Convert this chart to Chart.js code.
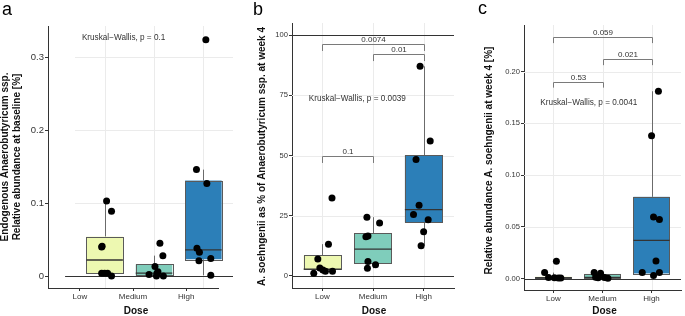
<!DOCTYPE html>
<html><head><meta charset="utf-8">
<script src="https://cdn.jsdelivr.net/npm/chart.js@4"></script>
<style>
html,body{margin:0;padding:0;background:#fff;}
#wrap{position:relative;width:685px;height:316px;overflow:hidden;background:#fff;}
canvas{position:absolute;top:0;}
</style></head><body>
<div id="wrap">
<canvas id="ca" width="236" height="316" style="left:0px"></canvas>
<canvas id="cb" width="222" height="316" style="left:236px"></canvas>
<canvas id="cc" width="227" height="316" style="left:458px"></canvas>
</div>
<script>
// ---------- shared ----------
const doseLevels = ['Low', 'Medium', 'High'];
const boxColors = ['#edf8b1', '#7fcdbb', '#2c7fb8'];

// ---------- panel a ----------
const aLow = [0.103, 0.089, 0.041, 0.040, 0.004, 0.004, 0.004, 0.000];
const aLowJitter = [0.04, 0.14, -0.05, -0.06, -0.06, 0.00, 0.06, 0.14];
const aMed = [0.045, 0.028, 0.013, 0.006, 0.004, 0.002, 0.000, 0.000];
const aMedJitter = [0.12, 0.18, 0.02, 0.08, 0.06, -0.10, 0.05, 0.19];
const aHigh = [0.324, 0.146, 0.127, 0.038, 0.0325, 0.024, 0.021, 0.001];
const aHighJitter = [0.05, -0.14, 0.07, -0.13, -0.08, 0.15, -0.09, 0.15];
const aBoxMin = [0.000, 0.000, 0.001];
const aBoxQ1 = [0.004, 0.0005, 0.023];
const aBoxMed = [0.022, 0.004, 0.036];
const aBoxQ3 = [0.054, 0.016, 0.131];
const aBoxMax = [0.104, 0.028, 0.146];
const aYTicks = [0, 0.1, 0.2, 0.3];
const aYTickLabels = ['0', '0.1', '0.2', '0.3'];
const aTest = 'Kruskal\u2212Wallis, p = 0.1';
const aTestPos = [0.54, 0.327];
const aTitle = ['Endogenous Anaerobutyricum ssp.', 'Relative abundance at baseline [%]'];

// ---------- panel b ----------
const bLow = [32.4, 13.2, 7.0, 3.3, 2.5, 2.0, 2.0, 1.1];
const bLowJitter = [0.19, 0.12, -0.09, -0.05, 0.01, 0.06, 0.20, -0.17];
const bMed = [24.4, 22.0, 16.6, 16.3, 6.0, 4.6, 3.2];
const bMedJitter = [-0.12, 0.13, -0.10, -0.14, -0.10, 0.05, -0.11];
const bHigh = [87.0, 56.0, 48.3, 29.3, 25.5, 23.3, 18.3, 12.5];
const bHighJitter = [-0.07, 0.13, -0.15, -0.09, -0.20, 0.09, 0.00, -0.05];
const bBoxMin = [1.1, 3.2, 12.5];
const bBoxQ1 = [2.5, 5.3, 22.2];
const bBoxMed = [2.8, 11.1, 27.5];
const bBoxQ3 = [8.5, 17.8, 50.1];
const bBoxMax = [13.2, 24.4, 87.0];
const bYTicks = [0, 25, 50, 75, 100];
const bYTickLabels = ['0', '25', '50', '75', '100'];
const bBracketFrom = [1, 2, 1];
const bBracketTo = [3, 3, 2];
const bBracketY = [96.3, 92.1, 49.8];
const bBracketLabel = ['0.0074', '0.01', '0.1'];
const bTest = 'Kruskal\u2212Wallis, p = 0.0039';
const bTestPos = [0.73, 73.7];
const bRefLines = [0, 100];
const bTitle = ['A. soehngenii as % of Anaerobutyricum ssp. at week 4'];

// ---------- panel c ----------
const cLow = [0.0167, 0.0058, 0.0010, 0.0008, 0.0005, 0.0005];
const cLowJitter = [0.06, -0.18, -0.10, 0.02, 0.10, 0.15];
const cMed = [0.0058, 0.0051, 0.0012, 0.0008, 0.0010, 0.0004];
const cMedJitter = [-0.17, -0.04, -0.14, -0.09, 0.04, 0.11];
const cHigh = [0.181, 0.138, 0.0595, 0.057, 0.017, 0.0058, 0.0058, 0.003];
const cHighJitter = [0.14, 0.00, 0.04, 0.16, 0.09, -0.19, 0.16, 0.04];
const cBoxMin = [0.0000, 0.0004, 0.003];
const cBoxQ1 = [0.0004, 0.0008, 0.005];
const cBoxMed = [0.0008, 0.0012, 0.037];
const cBoxQ3 = [0.0018, 0.0045, 0.079];
const cBoxMax = [0.0058, 0.0058, 0.181];
const cYTicks = [0, 0.05, 0.10, 0.15, 0.20];
const cYTickLabels = ['0.00', '0.05', '0.10', '0.15', '0.20'];
const cBracketFrom = [1, 2, 1];
const cBracketTo = [3, 3, 2];
const cBracketY = [0.233, 0.2117, 0.19];
const cBracketLabel = ['0.059', '0.021', '0.53'];
const cTest = 'Kruskal\u2212Wallis, p = 0.0041';
const cTestPos = [0.73, 0.170];
const cTitle = ['Relative abundance A. soehngenii at week 4 [%]'];

// ---------- drawing helpers ----------
const FONT = '"Liberation Sans", Arial, Helvetica, sans-serif';
const crisp = v => Math.round(v) + 0.5;

function panelPlugin(p) {
  return {
    id: 'panel' + p.letter,
    beforeDatasetsDraw(chart) {
      const ctx = chart.ctx, ca = chart.chartArea;
      const xs = chart.scales[p.dataScale], ys = chart.scales.y;
      const gx0 = p.gridFrom !== undefined ? xs.getPixelForValue(p.gridFrom) : ca.left;
      const gx1 = p.gridTo !== undefined ? xs.getPixelForValue(p.gridTo) : ca.right;
      ctx.save();
      // grid
      ctx.strokeStyle = '#ebebeb'; ctx.lineWidth = 1;
      p.yTicks.forEach(v => {
        const y = crisp(ys.getPixelForValue(v));
        ctx.beginPath(); ctx.moveTo(gx0, y); ctx.lineTo(gx1, y); ctx.stroke();
      });
      doseLevels.forEach((d, i) => {
        const x = crisp(xs.getPixelForValue(i + 1));
        ctx.beginPath(); ctx.moveTo(x, ca.top); ctx.lineTo(x, ca.bottom); ctx.stroke();
      });
      // reference lines
      ctx.strokeStyle = '#333'; ctx.lineWidth = 1;
      p.refLines.forEach(v => {
        const y = crisp(ys.getPixelForValue(v));
        const x0 = p.refFrom !== undefined ? xs.getPixelForValue(p.refFrom) : ca.left;
        const x1 = p.refTo !== undefined ? xs.getPixelForValue(p.refTo) : ca.right;
        ctx.beginPath(); ctx.moveTo(x0, y); ctx.lineTo(x1, y); ctx.stroke();
      });
      // boxes
      const hw = 0.37;
      doseLevels.forEach((d, i) => {
        const xc = crisp(xs.getPixelForValue(i + 1));
        const xl = xs.getPixelForValue(i + 1 - hw), xr = xs.getPixelForValue(i + 1 + hw);
        const yMin = ys.getPixelForValue(p.box.min[i]), yQ1 = ys.getPixelForValue(p.box.q1[i]);
        const yMd = ys.getPixelForValue(p.box.med[i]), yQ3 = ys.getPixelForValue(p.box.q3[i]);
        const yMax = ys.getPixelForValue(p.box.max[i]);
        ctx.strokeStyle = '#6b6b6b'; ctx.lineWidth = 1;
        ctx.beginPath(); ctx.moveTo(xc, yMin); ctx.lineTo(xc, yQ1);
        ctx.moveTo(xc, yQ3); ctx.lineTo(xc, yMax); ctx.stroke();
        ctx.fillStyle = boxColors[i];
        ctx.fillRect(xl, yQ3, xr - xl, yQ1 - yQ3);
        ctx.strokeStyle = '#5a5a5a';
        ctx.strokeRect(crisp(xl), crisp(yQ3), Math.round(xr - xl), Math.max(1, Math.round(yQ1 - yQ3)));
        ctx.strokeStyle = '#333'; ctx.lineWidth = 1.3;
        ctx.beginPath(); ctx.moveTo(xl, yMd); ctx.lineTo(xr, yMd); ctx.stroke();
      });
      // brackets
      if (p.brackets) {
        ctx.strokeStyle = '#7a7a7a'; ctx.lineWidth = 1;
        ctx.fillStyle = '#333'; ctx.font = '8px ' + FONT;
        ctx.textAlign = 'center'; ctx.textBaseline = 'alphabetic';
        p.brackets.from.forEach((f, k) => {
          const x0 = crisp(xs.getPixelForValue(f)), x1 = crisp(xs.getPixelForValue(p.brackets.to[k]));
          const y = crisp(ys.getPixelForValue(p.brackets.y[k]));
          const yt = ys.getPixelForValue(p.brackets.y[k] - p.tip);
          ctx.beginPath(); ctx.moveTo(x0, yt); ctx.lineTo(x0, y); ctx.lineTo(x1, y); ctx.lineTo(x1, yt); ctx.stroke();
          ctx.fillText(p.brackets.label[k], (x0 + x1) / 2, y - 2.5);
        });
      }
      // test label
      ctx.fillStyle = '#333'; ctx.font = '8.2px ' + FONT;
      ctx.textAlign = 'left'; ctx.textBaseline = 'middle';
      ctx.fillText(p.test, xs.getPixelForValue(p.testPos[0]), ys.getPixelForValue(p.testPos[1]));
      ctx.restore();
    },
    afterDraw(chart) {
      const ctx = chart.ctx, ca = chart.chartArea;
      ctx.save();
      ctx.fillStyle = '#111';
      // axis titles
      ctx.font = 'bold 10px ' + FONT;
      ctx.textAlign = 'center'; ctx.textBaseline = 'alphabetic';
      ctx.fillText('Dose', (ca.left + ca.right) / 2 + p.doseShift, 314);
      p.title.forEach((t, k) => {
        ctx.save();
        ctx.translate(p.titleX[k], p.titleY);
        ctx.rotate(-Math.PI / 2);
        ctx.fillText(t, 0, 0);
        ctx.restore();
      });
      // panel letter
      ctx.font = '18px ' + FONT; ctx.textAlign = 'left'; ctx.fillStyle = '#000';
      ctx.fillText(p.letter, p.letterPos[0], p.letterPos[1]);
      ctx.restore();
    }
  };
}

function makePanel(p) {
  const groups = [[p.low, p.lowJ], [p.med, p.medJ], [p.high, p.highJ]];
  const datasets = groups.map((g, i) => ({
    data: g[0].map((v, j) => ({ x: i + 1 + g[1][j], y: v })),
    xAxisID: p.dataScale, yAxisID: 'y',
    pointRadius: 3.5, pointBorderWidth: 0, backgroundColor: '#000', borderColor: '#000',
    showLine: false
  }));
  const scales = {
    x: {
      type: 'linear', position: 'bottom', min: 0.4, max: 3.6,
      afterFit: s => { s.height = p.xHeight; },
      afterBuildTicks: s => { s.ticks = doseLevels.map((d, i) => ({ value: i + 1 })); },
      ticks: { callback: (v, i) => doseLevels[i], autoSkip: false, maxRotation: 0, minRotation: 0,
               padding: 1, color: '#333', font: { family: FONT, size: 8 } },
      grid: { drawOnChartArea: false, drawTicks: true, tickLength: 3, tickColor: '#333', tickWidth: 1 },
      border: { display: true, color: '#333', width: 1 }
    },
    y: {
      type: 'linear', position: 'left', min: p.yMin, max: p.yMax,
      afterFit: s => { s.width = p.yWidth; },
      afterBuildTicks: s => { s.ticks = p.yTicks.map(v => ({ value: v })); },
      ticks: { callback: (v, i) => p.yTickLabels[i], autoSkip: false, padding: 1, color: '#333',
               font: { family: FONT, size: p.yTickSize } },
      grid: { drawOnChartArea: false, drawTicks: true, tickLength: 3, tickColor: '#333', tickWidth: 1 },
      border: { display: true, color: '#333', width: 1 }
    }
  };
  if (p.dataScale === 'xd') {
    scales.xd = { type: 'linear', display: false, min: p.xdMin, max: p.xdMax };
  }
  new Chart(document.getElementById(p.canvas), {
    type: 'scatter',
    data: { datasets },
    options: {
      responsive: false, animation: false, devicePixelRatio: 1,
      layout: { padding: p.padding },
      plugins: { legend: { display: false }, tooltip: { enabled: false } },
      scales
    },
    plugins: [panelPlugin(p)]
  });
}

makePanel({
  canvas: 'ca', letter: 'a', letterPos: [2, 15],
  padding: { left: 0, right: 18, top: 26, bottom: 0 }, yWidth: 48, xHeight: 28,
  yMin: -0.0164, yMax: 0.343, yTicks: aYTicks, yTickLabels: aYTickLabels, yTickSize: 9.5,
  dataScale: 'xd', xdMin: -0.146, xdMax: 3.296, gridFrom: 0.4, gridTo: 3.6,
  refLines: [0], refFrom: 0.2, refTo: 3.6,
  low: aLow, lowJ: aLowJitter, med: aMed, medJ: aMedJitter, high: aHigh, highJ: aHighJitter,
  box: { min: aBoxMin, q1: aBoxQ1, med: aBoxMed, q3: aBoxQ3, max: aBoxMax },
  test: aTest, testPos: aTestPos,
  title: aTitle, titleX: [8, 20], titleY: 157, doseShift: 3
});

makePanel({
  canvas: 'cb', letter: 'b', letterPos: [17, 15],
  padding: { left: 0, right: 2, top: 23, bottom: 0 }, yWidth: 56, xHeight: 28,
  yMin: -5, yMax: 105, yTicks: bYTicks, yTickLabels: bYTickLabels, yTickSize: 7.6,
  dataScale: 'x', refLines: bRefLines,
  low: bLow, lowJ: bLowJitter, med: bMed, medJ: bMedJitter, high: bHigh, highJ: bHighJitter,
  box: { min: bBoxMin, q1: bBoxQ1, med: bBoxMed, q3: bBoxQ3, max: bBoxMax },
  brackets: { from: bBracketFrom, to: bBracketTo, y: bBracketY, label: bBracketLabel }, tip: 2.9,
  test: bTest, testPos: bTestPos,
  title: bTitle, titleX: [28.5], titleY: 156.5, doseShift: 1
});

makePanel({
  canvas: 'cc', letter: 'c', letterPos: [20, 14],
  padding: { left: 0, right: 0, top: 25, bottom: 0 }, yWidth: 66, xHeight: 26,
  yMin: -0.011, yMax: 0.245, yTicks: cYTicks, yTickLabels: cYTickLabels, yTickSize: 7.6,
  dataScale: 'x', refLines: [0],
  low: cLow, lowJ: cLowJitter, med: cMed, medJ: cMedJitter, high: cHigh, highJ: cHighJitter,
  box: { min: cBoxMin, q1: cBoxQ1, med: cBoxMed, q3: cBoxQ3, max: cBoxMax },
  brackets: { from: cBracketFrom, to: cBracketTo, y: cBracketY, label: cBracketLabel }, tip: 0.0055,
  test: cTest, testPos: cTestPos,
  title: cTitle, titleX: [34], titleY: 160.5, doseShift: 2
});
</script>
</body></html>
